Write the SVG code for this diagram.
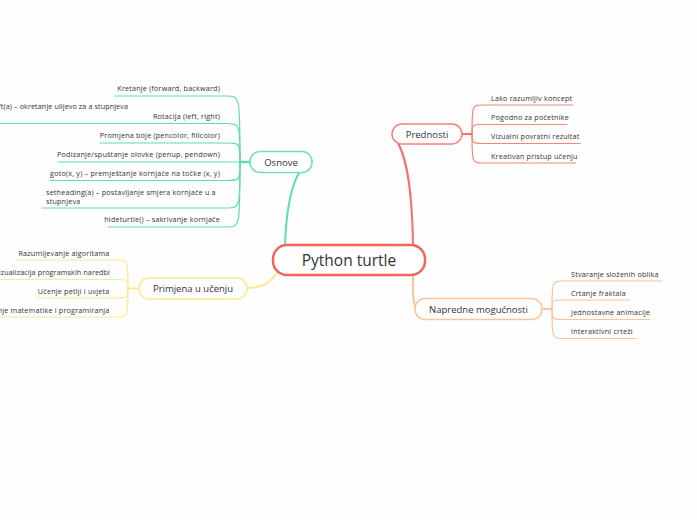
<svg xmlns="http://www.w3.org/2000/svg" width="697" height="520" viewBox="0 0 697 520">
<style>
text{font-family:"Open Sans","Liberation Sans",sans-serif;fill:#333}
.s{font-size:7.2px;letter-spacing:0.2px}
.m{font-size:9.5px}
.c{fill:none;stroke-linecap:round}
.t{stroke:#5fdcb3}
.r{stroke:#f5706a}
.o{stroke:#fcc49a}
.y{stroke:#f9ea8a}
</style>
<rect width="697" height="520" fill="#fefefe"/>
<g id="connectors" fill="none">
  <path class="c t" stroke-width="2" d="M285,245 C287,190 298,165 312,162"/>
  <path class="c r" stroke-width="2" d="M413,245 C412,185 406,150 393,136"/>
  <path class="c o" stroke-width="2" d="M413,276 C413,296 412,309 420,309"/>
  <path class="c y" stroke-width="2" d="M247,288 C262,288 270,283 277,273"/>
  <path class="c t" stroke-width="2.5" d="M250,162 L240,162"/>
  <g class="c t" stroke-width="1.2">
    <path d="M240,162 C240,96 240,96 226,96 L115,96"/>
    <path d="M240,162 C240,123.5 240,123.5 226,123.5 L-2,123.5"/>
    <path d="M240,162 C240,143 240,143 226,143 L100,143"/>
    <path d="M240,162 L58,162"/>
    <path d="M240,162 C240,180.5 240,180.5 226,180.5 L50,180.5"/>
    <path d="M240,162 C240,208 240,208 226,208 L42,208"/>
    <path d="M240,162 C240,227 240,227 226,227 L108,227"/>
  </g>
  <path class="c r" stroke-width="2" d="M462,134 L472,134"/>
  <g class="c r" stroke-width="1.2" opacity="0.85">
    <path d="M472,134 C472,105 472,105 484,105 L573,105"/>
    <path d="M472,134 C472,124.5 472,124.5 484,124.5 L567,124.5"/>
    <path d="M472,134 C472,143.5 472,143.5 484,143.5 L580,143.5"/>
    <path d="M472,134 C472,163 472,163 484,163 L576,163"/>
  </g>
  <path class="c o" stroke-width="2" d="M542,309 L552,309"/>
  <g class="c o" stroke-width="1.2">
    <path d="M552,309 C552,281 552,281 564,281 L662,281"/>
    <path d="M552,309 C552,300 552,300 564,300 L630,300"/>
    <path d="M552,309 C552,319.5 552,319.5 564,319.5 L650,319.5"/>
    <path d="M552,309 C552,338.5 552,338.5 564,338.5 L636,338.5"/>
  </g>
  <path class="c y" stroke-width="2" d="M139,288.5 L128,288.5"/>
  <g class="c y" stroke-width="1.2">
    <path d="M128,288.5 C128,260 128,260 116,260 L15,260"/>
    <path d="M128,288.5 C128,279.5 128,279.5 116,279.5 L-2,279.5"/>
    <path d="M128,288.5 C128,298 128,298 116,298 L37,298"/>
    <path d="M128,288.5 C128,317 128,317 116,317 L-2,317"/>
  </g>
</g>
<g id="central">
  <rect x="273" y="245" width="152" height="30" rx="14" fill="#fff" stroke="#f3645b" stroke-width="2.5"/>
  <text x="349" y="266" text-anchor="middle" font-size="15.5">Python turtle</text>
</g>
<g id="osnove">
  <rect x="250" y="151.5" width="62" height="21" rx="10" fill="#fff" stroke="#6fdfbb" stroke-width="1.5"/>
  <text class="m" x="281" y="165.5" text-anchor="middle">Osnove</text>
</g>
<g id="osnove-children" class="s">
  <text x="220" y="91" text-anchor="end">Kretanje (forward, backward)</text>
  <text x="128" y="109" text-anchor="end" letter-spacing="0.1">left(a) – okretanje ulijevo za a stupnjeva</text>
  <text x="220" y="119" text-anchor="end">Rotacija (left, right)</text>
  <text x="220" y="138" text-anchor="end">Promjena boje (pencolor, fillcolor)</text>
  <text x="220" y="157" text-anchor="end">Podizanje/spuštanje olovke (penup, pendown)</text>
  <text x="220" y="176" text-anchor="end">goto(x, y) – premještanje kornjače na točke (x, y)</text>
  <text x="46" y="194.5">setheading(a) – postavljanje smjera kornjače u a</text>
  <text x="46" y="204">stupnjeva</text>
  <text x="220" y="222" text-anchor="end">hideturtle() – sakrivanje kornjače</text>
</g>
<g id="prednosti">
  <rect x="392" y="124" width="70" height="20" rx="10" fill="#fff" stroke="#f78078" stroke-width="1.5"/>
  <text class="m" x="427" y="137.5" text-anchor="middle">Prednosti</text>
</g>
<g id="prednosti-children" class="s">
  <text x="491" y="101">Lako razumljiv koncept</text>
  <text x="491" y="120">Pogodno za početnike</text>
  <text x="491" y="139">Vizualni povratni rezultat</text>
  <text x="491" y="158.5">Kreativan pristup učenju</text>
</g>
<g id="napredne">
  <rect x="415" y="298.5" width="127" height="21" rx="10" fill="#fff" stroke="#fcc49a" stroke-width="1.5"/>
  <text class="m" x="478.5" y="312.5" text-anchor="middle">Napredne mogućnosti</text>
</g>
<g id="napredne-children" class="s">
  <text x="571" y="276.5">Stvaranje složenih oblika</text>
  <text x="571" y="295.5">Crtanje fraktala</text>
  <text x="571" y="314.5">Jednostavne animacije</text>
  <text x="571" y="333.5">Interaktivni crteži</text>
</g>
<g id="primjena">
  <rect x="139" y="278" width="108" height="21" rx="10" fill="#fff" stroke="#f9ea8a" stroke-width="1.5"/>
  <text class="m" x="193" y="292" text-anchor="middle">Primjena u učenju</text>
</g>
<g id="primjena-children" class="s">
  <text x="109.5" y="256" text-anchor="end">Razumijevanje algoritama</text>
  <text x="110" y="275" text-anchor="end" letter-spacing="0.1">Vizualizacija programskih naredbi</text>
  <text x="109.5" y="293.5" text-anchor="end">Učenje petlji i uvjeta</text>
  <text x="109.5" y="312.5" text-anchor="end">Povezivanje matematike i programiranja</text>
</g>
</svg>
